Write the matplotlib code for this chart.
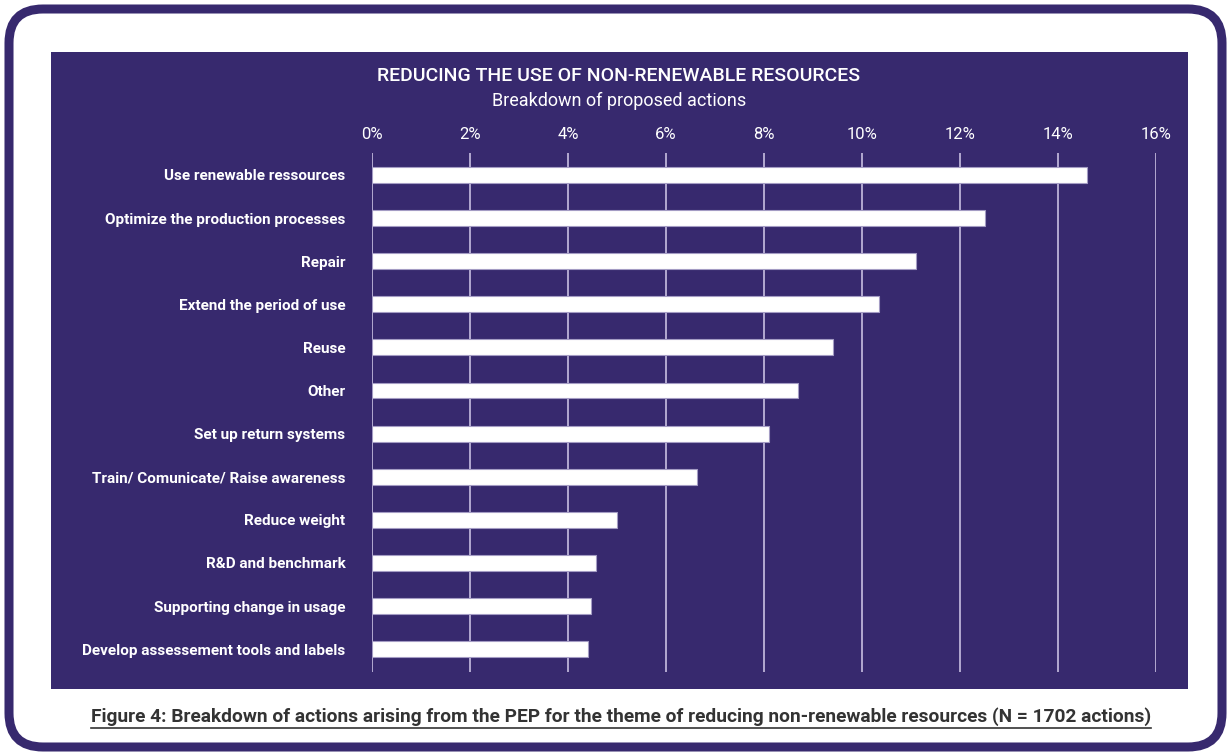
import matplotlib
matplotlib.use("Agg")
import matplotlib.pyplot as plt
from matplotlib.patches import FancyBboxPatch, Rectangle
from matplotlib.lines import Line2D

plt.rcParams["font.family"] = ["Roboto", "DejaVu Sans"]

actions = [
    "Use renewable ressources",
    "Optimize the production processes",
    "Repair",
    "Extend the period of use",
    "Reuse",
    "Other",
    "Set up return systems",
    "Train/ Comunicate/ Raise awareness",
    "Reduce weight",
    "R&D and benchmark",
    "Supporting change in usage",
    "Develop assessement tools and labels",
]
shares = [14.6, 12.5, 11.1, 10.35, 9.4, 8.7, 8.1, 6.63, 5.0, 4.58, 4.47, 4.41]
ticks = [0, 2, 4, 6, 8, 10, 12, 14, 16]

PURPLE = "#37296e"
GRID = "#bcb3d8"
W, H = 1231, 756

fig = plt.figure(figsize=(W / 100, H / 100), dpi=100)

# background layer in pixel coordinates: rounded frame + dark panel
bg = fig.add_axes([0, 0, 1, 1])
bg.set_xlim(0, W)
bg.set_ylim(H, 0)
bg.axis("off")
bg.add_patch(FancyBboxPatch((9, 9), W - 18, H - 18,
                            boxstyle="round,pad=0,rounding_size=34",
                            fc="white", ec=PURPLE, lw=6.5))
bg.add_patch(Rectangle((51, 52), 1188 - 51, 689 - 52, fc=PURPLE, ec="none"))

bg.text(619, 76, "REDUCING THE USE OF NON-RENEWABLE RESOURCES", color="white",
        fontsize=14, fontweight="medium", ha="center", va="center")
bg.text(619, 101, "Breakdown of proposed actions", color="white",
        fontsize=13, ha="center", va="center")

caption = bg.text(621, 717, "Figure 4: Breakdown of actions arising from the PEP for the "
                  "theme of reducing non-renewable resources (N = 1702 actions)",
                  color="#333333", fontsize=13.8, fontweight="bold",
                  ha="center", va="center")

# bar chart axes
x0, x1, y0, y1 = 372, 1156, 153, 672
ax = fig.add_axes([x0 / W, 1 - y1 / H, (x1 - x0) / W, (y1 - y0) / H])
ax.set_facecolor("none")
ypos = list(range(len(actions)))
ax.barh(ypos, shares, height=0.37, color="white", edgecolor="#a49cc4",
        linewidth=0.8, zorder=3)
ax.set_xlim(0, 16)
ax.set_ylim(11.53, -0.51)
ax.set_xticks(ticks)
ax.set_xticklabels([f"{t}%" for t in ticks])
ax.xaxis.tick_top()
ax.set_yticks(ypos)
ax.set_yticklabels(actions, fontweight="bold")
ax.tick_params(axis="x", colors="white", labelsize=12, length=0, pad=8)
ax.tick_params(axis="y", colors="white", labelsize=11, length=0, pad=19)
for t in ticks:
    ax.axvline(t, color=GRID, lw=1.3, zorder=1)
for s in ax.spines.values():
    s.set_visible(False)

# underline the caption
fig.canvas.draw()
bb = caption.get_window_extent()
ul = H - bb.y0 + 2
bg.add_line(Line2D([bb.x0, bb.x1], [ul, ul], color="#333333", lw=1.2))

fig.savefig("out.png", dpi=100, facecolor="white")
